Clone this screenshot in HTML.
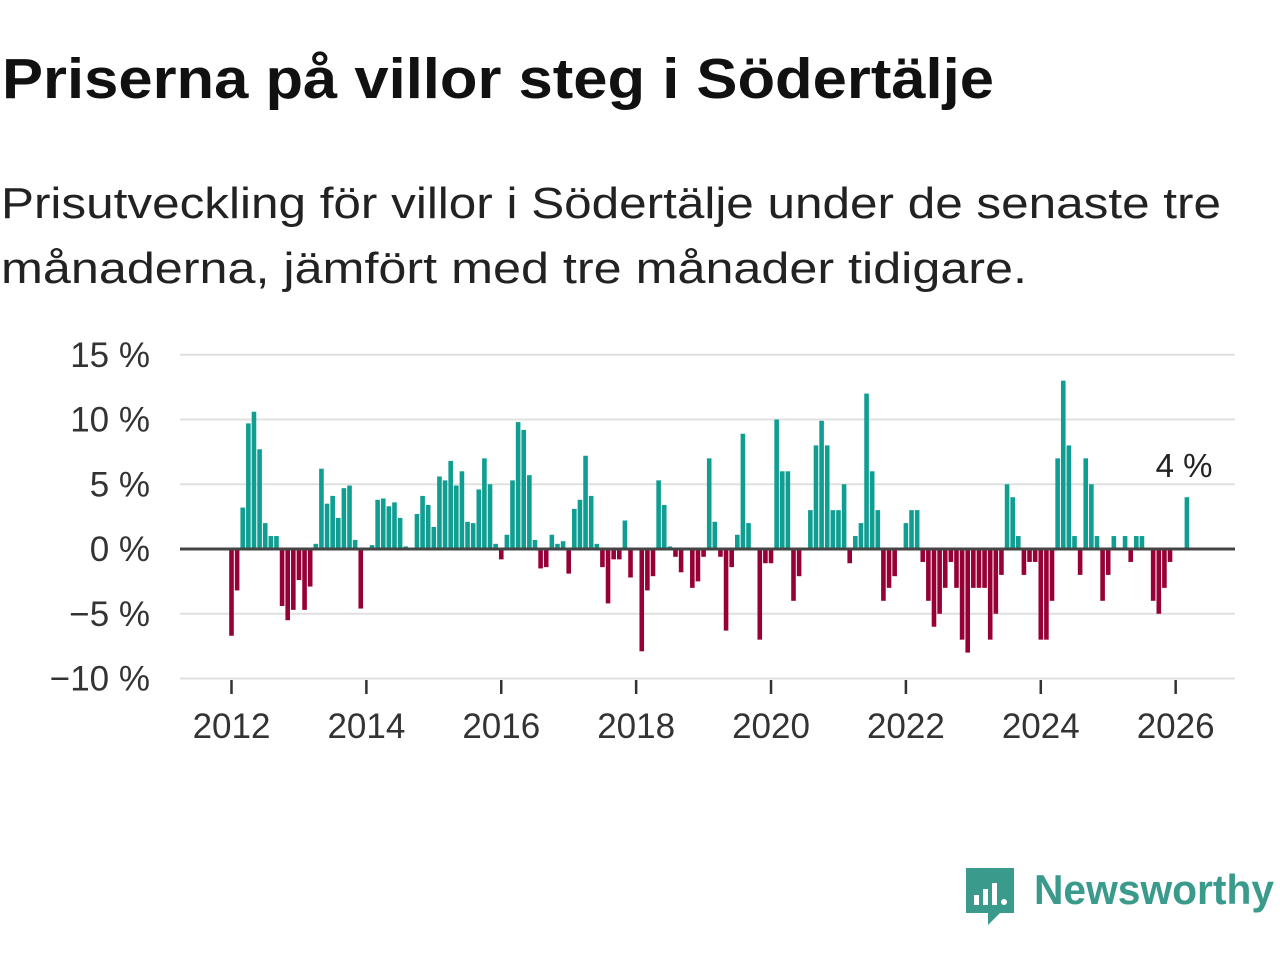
<!DOCTYPE html>
<html><head><meta charset="utf-8"><style>
html,body{margin:0;padding:0;background:#fff;width:1280px;height:960px;overflow:hidden}
svg{display:block;font-family:"Liberation Sans",sans-serif}
</style></head><body>
<svg id="chart" width="1280" height="960" viewBox="0 0 1280 960" xmlns="http://www.w3.org/2000/svg">
<text x="2" y="98" font-size="57" font-weight="bold" fill="#111" textLength="992" lengthAdjust="spacingAndGlyphs">Priserna på villor steg i Södertälje</text>
<text font-size="44" fill="#222"><tspan x="1" y="218" textLength="1220" lengthAdjust="spacingAndGlyphs">Prisutveckling för villor i Södertälje under de senaste tre</tspan><tspan x="1" y="283" textLength="1026" lengthAdjust="spacingAndGlyphs">månaderna, jämfört med tre månader tidigare.</tspan></text>
<g id="grid"></g>
<g id="ylabels"></g>
<g id="bars"></g>
<line x1="180" x2="1235" y1="549" y2="549" stroke="#444" stroke-width="3"/>
<g id="xaxis"></g>
<text x="1184" y="477" font-size="33" text-anchor="middle" fill="#222">4 %</text>
<g>
<path d="M966 868 h48 v45 h-14 l-12 12 v-12 h-22 z" fill="#3a9a8c"/>
<rect x="974" y="895" width="5" height="10" fill="#fff"/><rect x="983" y="889" width="5" height="16" fill="#fff"/><rect x="992" y="883" width="5" height="22" fill="#fff"/><circle cx="1004" cy="902" r="3" fill="#fff"/>
<text x="1034" y="904" font-size="42" font-weight="bold" fill="#3a9a8c" textLength="240" lengthAdjust="spacingAndGlyphs">Newsworthy</text>
</g>
</svg>
<script>
const values = [-6.7,-3.2,3.2,9.7,10.6,7.7,2.0,1.0,1.0,-4.4,-5.5,-4.7,-2.4,-4.7,-2.9,0.4,6.2,3.5,4.1,2.4,4.7,4.9,0.7,-4.6,0,0.3,3.8,3.9,3.3,3.6,2.4,0.2,0,2.7,4.1,3.4,1.7,5.6,5.3,6.8,4.9,6.0,2.1,2.0,4.6,7.0,5.0,0.4,-0.8,1.1,5.3,9.8,9.2,5.7,0.7,-1.5,-1.4,1.1,0.4,0.6,-1.9,3.1,3.8,7.2,4.1,0.4,-1.4,-4.2,-0.8,-0.8,2.2,-2.2,0,-7.9,-3.2,-2.1,5.3,3.4,0.2,-0.6,-1.8,0,-3.0,-2.5,-0.6,7.0,2.1,-0.6,-6.3,-1.4,1.1,8.9,2.0,0,-7.0,-1.1,-1.1,10.0,6.0,6.0,-4,-2.1,0,3,8,9.9,8,3,3,5,-1.1,1,2,12,6,3,-4,-3,-2.1,0,2,3,3,-1,-4,-6,-5,-3,-1,-3,-7,-8,-3,-3,-3,-7,-5,-2,5,4,1,-2,-1,-1,-7,-7,-4,7,13,8,1,-2,7,5,1,-4,-2,1,0,1,-1,1,1,0,-4,-5,-3,-1,0,0,4];
const startYear = 2012;
const yTicks = [15,10,5,0,-5,-10];
const yTickLabels = ["15 %","10 %","5 %","0 %","\u22125 %","\u221210 %"];
const xTickYears = [2012,2014,2016,2018,2020,2022,2024,2026];

const NS="http://www.w3.org/2000/svg";
function y(v){return 549 - v*12.95;}
function x(monthIndex){return 231.5 + monthIndex*5.62;}
function mk(tag,attrs,parent){const e=document.createElementNS(NS,tag);for(const k in attrs)e.setAttribute(k,attrs[k]);parent.appendChild(e);return e;}
const grid=document.getElementById('grid'),yl=document.getElementById('ylabels'),bars=document.getElementById('bars'),xa=document.getElementById('xaxis');
yTicks.forEach((t,i)=>{
  if(t!==0){const l=mk('line',{x1:180,x2:1235,y1:y(t),y2:y(t),stroke:'#e0e0e0','stroke-width':2},grid);
  
  }
  const tx=mk('text',{x:150,y:y(t)+12,'font-size':35,'text-anchor':'end',fill:'#333'},yl);
  tx.textContent=yTickLabels[i];
  
  
});
values.forEach((v,i)=>{
  if(v===0)return;
  const cx=x(i);
  const r=mk('rect',{x:cx-2.3,width:4.6,y:Math.min(y(v),549),height:Math.abs(y(v)-549),fill:v>0?'#0f9e91':'#970036'},bars);
  
  
});
xTickYears.forEach(yr=>{
  const cx=x((yr-startYear)*12);
  const t=mk('line',{x1:cx,x2:cx,y1:680,y2:694,stroke:'#333','stroke-width':2.5},xa);
  
  
  const tx=mk('text',{x:cx,y:738,'font-size':35,'text-anchor':'middle',fill:'#333'},xa);
  tx.textContent=String(yr);
  
  
});
</script>
</body></html>
